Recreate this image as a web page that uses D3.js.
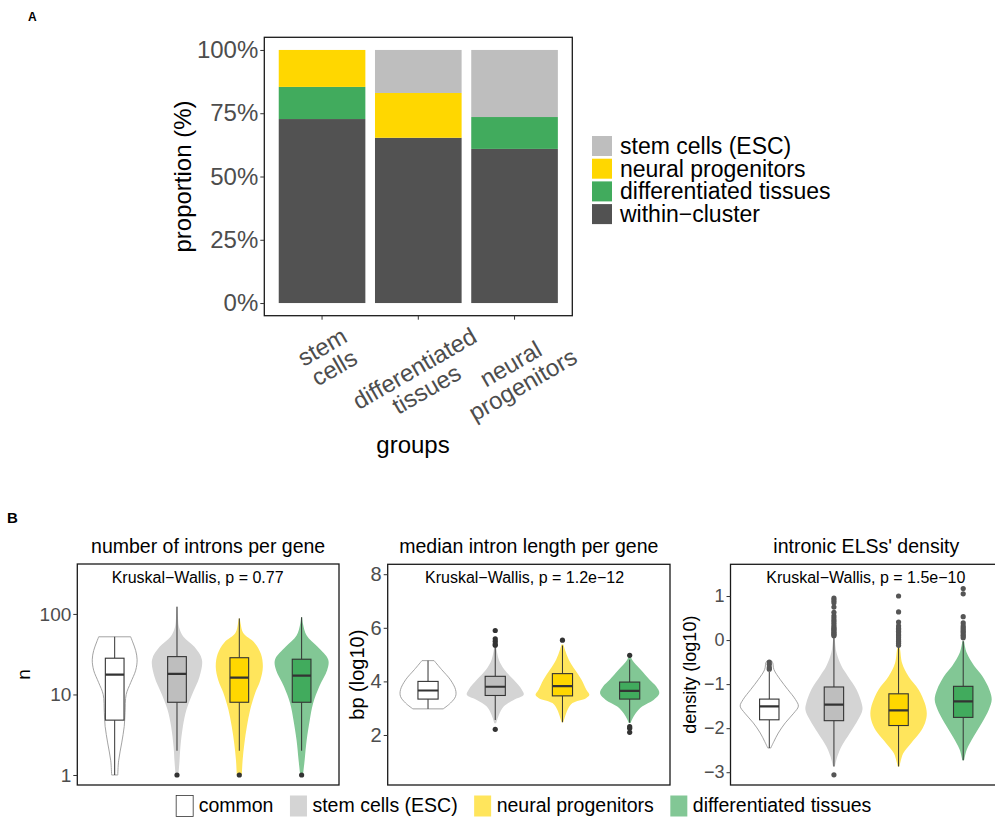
<!DOCTYPE html>
<html>
<head>
<meta charset="utf-8">
<script src="https://cdn.jsdelivr.net/npm/d3@7"></script>
<style>
  body { margin: 0; background: #fff; }
  svg { display: block; font-family: "Liberation Sans", Arial, Helvetica, sans-serif; }
</style>
</head>
<body>
<svg id="chart" width="995" height="820"></svg>
<script>
// ---- panel A data ----
const groupsA = ['stem\ncells', 'differentiated\ntissues', 'neural\nprogenitors'];
const stackKeys = ['within\u2212cluster', 'differentiated tissues', 'neural progenitors', 'stem cells (ESC)']; // bottom -> top
const legendA = ['stem cells (ESC)', 'neural progenitors', 'differentiated tissues', 'within\u2212cluster'];
const withinCluster = [72.7, 65.3, 60.9];
const diffTissues = [12.7, 0, 12.6];
const neuralProg = [14.6, 17.7, 0];
const stemCells = [0, 17.0, 26.5];
const ticksA = [0, 25, 50, 75, 100];

// ---- panel B data ----
const groupsB = ['common', 'stem cells (ESC)', 'neural progenitors', 'differentiated tissues'];

// box stats: [lower whisker, q1, median, q3, upper whisker]
const intronsBox = [[1, 4.8, 17.6, 28.2, 52], [2, 8, 18, 29.5, 123], [2, 8, 16.2, 28.6, 88], [2, 8, 17.1, 27.4, 91]];
const intronsOut = [[], [1], [1], [1]];
// violin outline: [value, relative density]
const intronsViolin = [
  [[1, .11], [1.5, .14], [2.5, .25], [4, .34], [6, .37], [10, .41], [14, .57], [20, .75], [27, .8], [35, .75], [45, .64], [52, .57]],
  [[1, .05], [1.5, .09], [2.2, .12], [4, .21], [6.5, .34], [10, .54], [16.5, .8], [27, .89], [39, .62], [52, .23], [69, .07], [90, .035], [123, .02]],
  [[1, .09], [1.55, .12], [2.45, .18], [4, .27], [6.5, .39], [10.5, .57], [15, .75], [22, .84], [32, .77], [44, .54], [58, .14], [75, .05], [88, .02]],
  [[1, .05], [1.55, .11], [2.7, .18], [4.8, .29], [7.8, .41], [12.6, .63], [20, .91], [27, .95], [39, .57], [54, .18], [75, .05], [91, .02]]
];
const intronsTicks = [1, 10, 100];

const lengthBox = [[2.975, 3.34, 3.66, 4.0, 4.775], [2.56, 3.475, 3.8, 4.19, 5.29], [2.475, 3.46, 3.825, 4.29, 5.34], [2.46, 3.34, 3.65, 3.975, 4.81]];
const lengthOut = [[], [5.35, 5.4, 5.5, 5.59, 5.9, 2.21], [5.54], [4.975, 2.31, 2.25, 2.1]];
const lengthViolin = [
  [[2.975, .5], [3.19, .74], [3.44, .91], [3.69, .91], [4.06, .74], [4.44, .45], [4.775, .2]],
  [[2.44, .03], [2.75, .12], [3.06, .28], [3.31, .61], [3.5, .94], [3.69, .88], [4.06, .61], [4.44, .3], [4.81, .12], [5.29, .03]],
  [[2.475, .03], [2.94, .17], [3.19, .33], [3.375, .78], [3.5, .89], [3.69, .79], [4.06, .63], [4.44, .41], [4.81, .21], [5.19, .08], [5.375, .03]],
  [[2.45, .03], [2.56, .07], [2.81, .2], [3.06, .41], [3.31, .79], [3.56, .98], [3.81, .88], [4.06, .66], [4.44, .36], [4.81, .08], [4.94, .03]]
];
const lengthTicks = [2, 4, 6, 8];

const densityBox = [[-2.45, -1.81, -1.505, -1.34, -0.72], [-2.87, -1.83, -1.467, -1.065, 0.07], [-2.87, -1.94, -1.595, -1.22, -0.15], [-2.73, -1.755, -1.39, -1.05, -0.025]];
const densityOut = [
  [-0.5, -0.55, -0.62, -0.66],
  [0.95, 0.9, 0.85, 0.75, 0.63, 0.55, 0.5, 0.45, 0.4, 0.35, 0.3, 0.27, 0.24, 0.21, 0.18, 0.15, 0.12, 0.1, -3.06],
  [1.0, 0.64, 0.41, 0.32, 0.27, 0.24, 0.2, 0.165, 0.12, 0.09, 0.05, 0.01, -0.03, -0.07, -0.12],
  [1.17, 1.05, 0.53, 0.39, 0.32, 0.28, 0.24, 0.2, 0.165, 0.12, 0.09, 0.05]
];
const densityViolin = [
  [[-2.45, .05], [-2.3, .16], [-2.11, .31], [-1.88, .55], [-1.66, .84], [-1.5, 1], [-1.35, .9], [-1.125, .64], [-0.9, .38], [-0.67, .16], [-0.52, .12], [-0.48, .09]],
  [[-2.87, .03], [-2.64, .12], [-2.415, .26], [-2.11, .55], [-1.81, .83], [-1.58, .98], [-1.43, .95], [-1.125, .78], [-0.82, .48], [-0.59, .26], [-0.29, .09], [0, .03], [0.07, .02]],
  [[-2.87, .03], [-2.57, .16], [-2.34, .43], [-2.11, .72], [-1.88, .91], [-1.66, .97], [-1.43, .9], [-1.125, .69], [-0.82, .34], [-0.52, .12], [-0.21, .05], [-0.15, .02]],
  [[-2.73, .03], [-2.49, .12], [-2.19, .36], [-1.88, .64], [-1.58, .88], [-1.35, .98], [-1.125, .9], [-0.82, .66], [-0.59, .38], [-0.29, .12], [-0.025, .03]]
];
const densityTicks = [-3, -2, -1, 0, 1];

// ---- colours ----
const colA = {'stem cells (ESC)': '#BEBEBE', 'neural progenitors': '#FFD700', 'differentiated tissues': '#41AB5D', 'within\u2212cluster': '#525252'};
const violinFill = ['#FFFFFF', '#D4D4D4', '#FFE55C', '#82C795'];
const boxFill = ['#FFFFFF', '#BEBEBE', '#FFD700', '#41AB5D'];
const tickGrey = '#4D4D4D';

const svg = d3.select('#chart');
svg.append('rect').attr('width', 995).attr('height', 820).attr('fill', '#fff');

// panel letters
svg.append('text').attr('x', 28).attr('y', 21).attr('font-size', 12).attr('font-weight', 'bold').text('A');
svg.append('text').attr('x', 7).attr('y', 523).attr('font-size', 15).attr('font-weight', 'bold').text('B');

// ================= Panel A =================
const A = {left: 264.3, right: 572.3, top: 37.3, bottom: 315.7};
const xA = d3.scaleBand().domain(d3.range(groupsA.length)).range([A.left, A.right])
  .paddingInner(0.1).paddingOuter(0.15);
const yA = d3.scaleLinear().domain([-5, 105]).range([A.bottom, A.top]);

const rowsA = groupsA.map((g, i) => ({
  'within\u2212cluster': withinCluster[i],
  'differentiated tissues': diffTissues[i],
  'neural progenitors': neuralProg[i],
  'stem cells (ESC)': stemCells[i]
}));
const stacked = d3.stack().keys(stackKeys)(rowsA);

const gA = svg.append('g');
gA.selectAll('g.layer')
  .data(stacked)
  .enter()
  .append('g')
  .attr('class', 'layer')
  .attr('fill', d => colA[d.key])
  .selectAll('rect')
  .data(d => d)
  .enter()
  .append('rect')
  .attr('x', (d, i) => xA(i))
  .attr('width', xA.bandwidth())
  .attr('y', d => yA(d[1]))
  .attr('height', d => yA(d[0]) - yA(d[1]));

gA.append('rect')
  .attr('x', A.left).attr('y', A.top)
  .attr('width', A.right - A.left).attr('height', A.bottom - A.top)
  .attr('fill', 'none').attr('stroke', '#1a1a1a').attr('stroke-width', 1.3);

const axA = gA.append('g')
  .attr('transform', `translate(${A.left},0)`)
  .call(d3.axisLeft(yA).tickValues(ticksA).tickFormat(d => d + '%').tickSize(4).tickPadding(2));
axA.select('.domain').remove();
axA.selectAll('text').attr('font-size', 24).attr('fill', tickGrey).attr('font-family', null);
axA.selectAll('line').attr('stroke', '#333');

// x ticks + rotated labels
groupsA.forEach((g, i) => {
  const cx = xA(i) + xA.bandwidth() / 2;
  gA.append('line').attr('x1', cx).attr('x2', cx).attr('y1', A.bottom).attr('y2', A.bottom + 4).attr('stroke', '#333');
  const lab = gA.append('g');
  const t = lab.append('text').attr('font-size', 24).attr('fill', tickGrey).attr('text-anchor', 'middle')
    .attr('transform', 'rotate(-30)');
  g.split('\n').forEach((line, k) => {
    t.append('tspan').attr('x', 0).attr('dy', k === 0 ? 0 : '1.0em').text(line);
  });
  const bb = lab.node().getBoundingClientRect();
  const shift = i === 0 ? 6 : 2;
  lab.attr('transform', `translate(${cx + shift - (bb.left + bb.width / 2)},${322 - bb.top})`);
});

gA.append('text').attr('x', 413).attr('y', 453).attr('text-anchor', 'middle')
  .attr('font-size', 24).text('groups');
gA.append('text').attr('transform', `translate(191,${(A.top + A.bottom) / 2}) rotate(-90)`)
  .attr('text-anchor', 'middle').attr('font-size', 24).text('proportion (%)');

// legend A
legendA.forEach((k, i) => {
  const y = 136 + i * 22.7;
  gA.append('rect').attr('x', 592).attr('y', y).attr('width', 20).attr('height', 20).attr('fill', colA[k]);
  gA.append('text').attr('x', 620).attr('y', y + 10 + 8).attr('font-size', 23).text(k);
});

// ================= Panel B =================
function violinPanel(cfg) {
  const g = svg.append('g');
  const x = d3.scaleBand().domain(d3.range(groupsB.length)).range([cfg.left, cfg.right])
    .paddingInner(0).paddingOuter(0.1);
  const step = x.step();
  const y = (cfg.log ? d3.scaleLog() : d3.scaleLinear()).domain(cfg.domain).range([cfg.bottom, cfg.top]);
  const w = d3.scaleLinear().domain([0, 1]).range([0, 0.9 * step]);
  const clipId = 'clip' + cfg.id;
  g.append('clipPath').attr('id', clipId).append('rect')
    .attr('x', cfg.left).attr('y', cfg.top).attr('width', cfg.right - cfg.left).attr('height', cfg.bottom - cfg.top);
  const inner = g.append('g').attr('clip-path', `url(#${clipId})`);

  groupsB.forEach((name, i) => {
    const cx = x(i) + step / 2;
    const area = d3.area()
      .curve(d3.curveCatmullRom)
      .y(d => y(d[0]))
      .x0(d => cx - w(d[1]) / 2)
      .x1(d => cx + w(d[1]) / 2);
    inner.append('path')
      .attr('d', area(cfg.violins[i]))
      .attr('fill', violinFill[i])
      .attr('stroke', i === 0 ? '#999' : 'none')
      .attr('stroke-width', 0.9);

    const s = cfg.box[i];
    const bw = 0.3 * step;
    inner.append('line').attr('x1', cx).attr('x2', cx).attr('y1', y(s[0])).attr('y2', y(s[1]))
      .attr('stroke', '#333').attr('stroke-width', 1);
    inner.append('line').attr('x1', cx).attr('x2', cx).attr('y1', y(s[3])).attr('y2', y(s[4]))
      .attr('stroke', '#333').attr('stroke-width', 1);
    inner.append('rect').attr('x', cx - bw / 2).attr('width', bw)
      .attr('y', y(s[3])).attr('height', y(s[1]) - y(s[3]))
      .attr('fill', boxFill[i]).attr('stroke', '#333').attr('stroke-width', 1.1);
    inner.append('line').attr('x1', cx - bw / 2).attr('x2', cx + bw / 2).attr('y1', y(s[2])).attr('y2', y(s[2]))
      .attr('stroke', '#333').attr('stroke-width', 2.2);
    inner.selectAll(null)
      .data(cfg.outliers[i])
      .enter()
      .append('circle')
      .attr('cx', cx).attr('cy', d => y(d)).attr('r', 2.6)
      .attr('fill', cfg.outColor);
  });

  g.append('rect').attr('x', cfg.left).attr('y', cfg.top)
    .attr('width', cfg.right - cfg.left).attr('height', cfg.bottom - cfg.top)
    .attr('fill', 'none').attr('stroke', '#1a1a1a').attr('stroke-width', 1.3);

  const ax = g.append('g').attr('transform', `translate(${cfg.left},0)`)
    .call(d3.axisLeft(y).tickValues(cfg.ticks).tickFormat(d => String(d).replace('-', '\u2212')).tickSize(4).tickPadding(2));
  ax.select('.domain').remove();
  ax.selectAll('text').attr('font-size', cfg.tickSize).attr('fill', tickGrey).attr('font-family', null);
  ax.selectAll('line').attr('stroke', '#333');

  g.append('text').attr('x', (cfg.left + cfg.right) / 2).attr('y', 553).attr('text-anchor', 'middle')
    .attr('font-size', 19.5).text(cfg.title);
  g.append('text').attr('x', x(0) + step / 2 - 3).attr('y', 583)
    .attr('font-size', 16).text(cfg.pLabel);
  g.append('text').attr('transform', `translate(${cfg.yTitleX},${(cfg.top + cfg.bottom) / 2}) rotate(-90)`)
    .attr('text-anchor', 'middle').attr('font-size', cfg.titleSize).text(cfg.yTitle);
}

violinPanel({
  id: 1, left: 77.3, right: 339, top: 564, bottom: 785, log: true,
  domain: [0.751, 417], ticks: intronsTicks,
  box: intronsBox, outliers: intronsOut, violins: intronsViolin, outColor: '#333',
  title: 'number of introns per gene', pLabel: 'Kruskal\u2212Wallis, p = 0.77',
  yTitle: 'n', yTitleX: 30, tickSize: 19, titleSize: 19
});
violinPanel({
  id: 2, left: 387.7, right: 670, top: 564.3, bottom: 785, log: false,
  domain: [0.134, 8.37], ticks: lengthTicks,
  box: lengthBox, outliers: lengthOut, violins: lengthViolin, outColor: '#333',
  title: 'median intron length per gene', pLabel: 'Kruskal\u2212Wallis, p = 1.2e\u221212',
  yTitle: 'bp (log10)', yTitleX: 364, tickSize: 20, titleSize: 20
});
violinPanel({
  id: 3, left: 730.5, right: 1002, top: 564.3, bottom: 785, log: false,
  domain: [-3.29, 1.72], ticks: densityTicks,
  box: densityBox, outliers: densityOut, violins: densityViolin, outColor: '#555',
  title: "intronic ELSs' density", pLabel: 'Kruskal\u2212Wallis, p = 1.5e\u221210',
  yTitle: 'density (log10)', yTitleX: 696, tickSize: 18, titleSize: 18
});

// legend B: horizontal, centred under the panels
const legB = svg.append('g');
let cursor = 0;
groupsB.forEach((k, i) => {
  const item = legB.append('g').attr('transform', `translate(${cursor},0)`);
  item.append('rect').attr('x', 0.5).attr('y', 795.5).attr('width', 17).attr('height', 21)
    .attr('fill', violinFill[i]).attr('stroke', i === 0 ? '#333' : 'none').attr('stroke-width', 0.8);
  const t = item.append('text').attr('x', 23).attr('y', 812).attr('font-size', 19.5).text(k);
  cursor += 23 + t.node().getComputedTextLength() + 16;
});
legB.attr('transform', `translate(${523.5 - (cursor - 16) / 2},0)`);
</script>
</body>
</html>
